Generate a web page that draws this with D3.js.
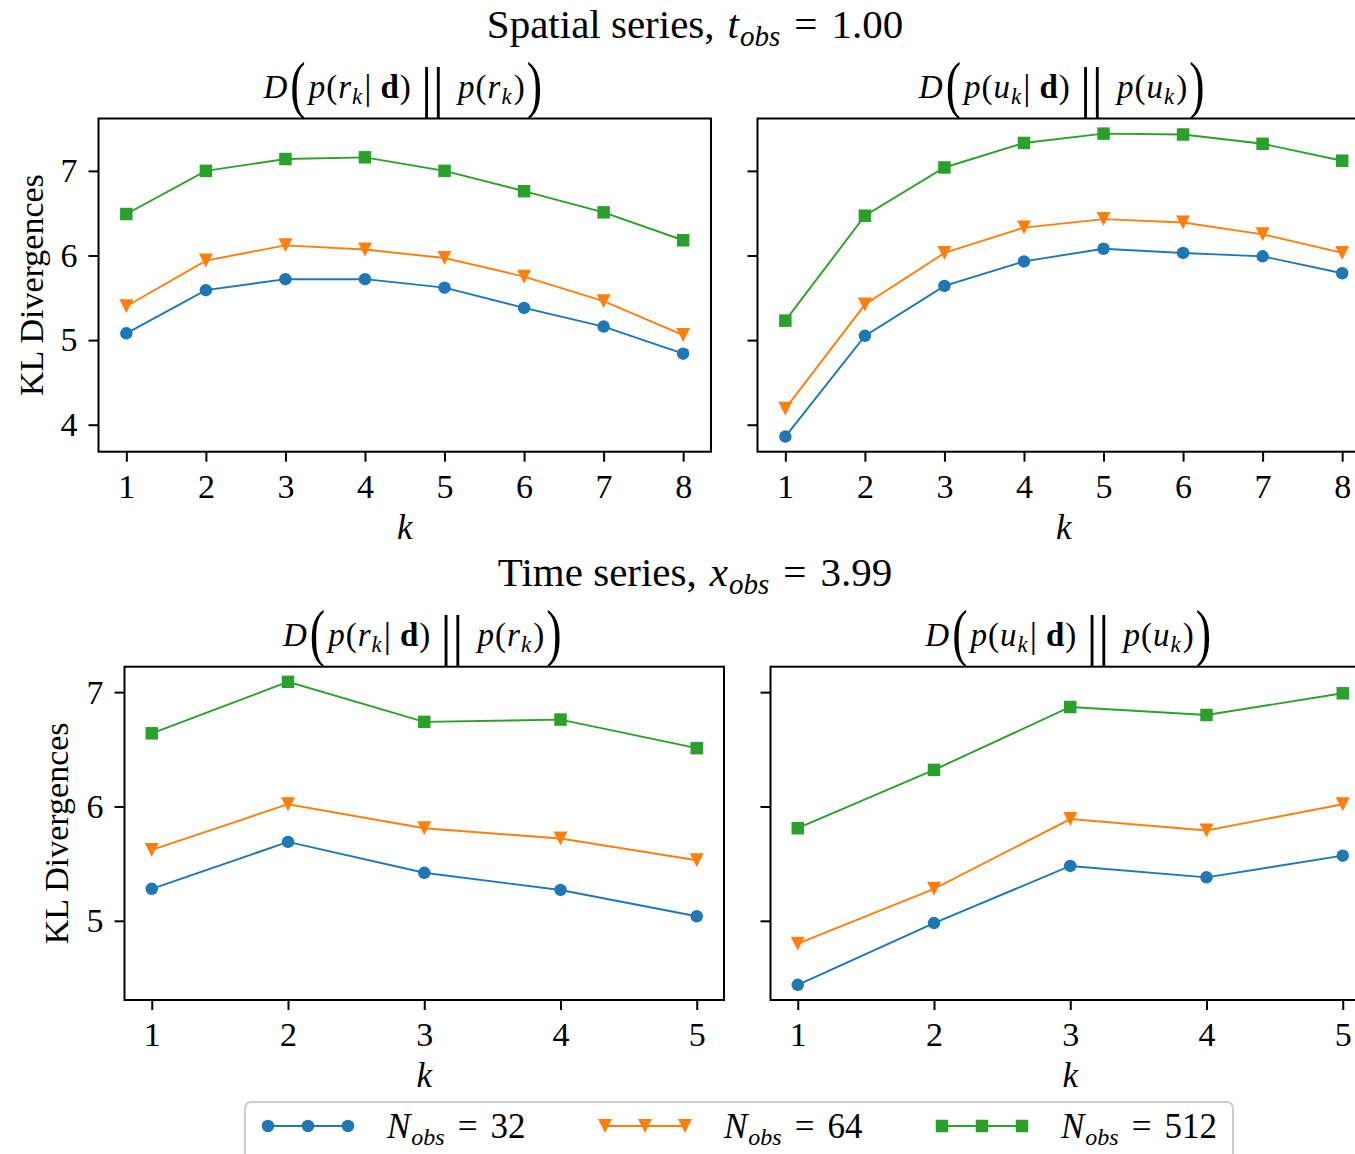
<!DOCTYPE html>
<html><head><meta charset="utf-8">
<script src="https://cdn.jsdelivr.net/npm/d3@7"></script>
<style>
html,body{margin:0;padding:0;background:#fff;overflow:hidden}
svg{display:block;font-family:"Liberation Serif","Times New Roman",serif}
svg text{white-space:pre}
</style></head><body>
<script>
// ---- data ----
const kSpatial = [1, 2, 3, 4, 5, 6, 7, 8];
const kTime = [1, 2, 3, 4, 5];
const seriesNames = ["32", "64", "512"];
const seriesColors = ["#1f77b4", "#ff7f0e", "#2ca02c"];
const seriesMarkers = ["circle", "triangleDown", "square"];

// Spatial series, KL divergence for r_k
const spatialR_N32  = [5.08, 5.59, 5.72, 5.72, 5.62, 5.38, 5.16, 4.84];
const spatialR_N64  = [5.40, 5.94, 6.12, 6.07, 5.97, 5.75, 5.46, 5.06];
const spatialR_N512 = [6.49, 7.00, 7.14, 7.16, 7.00, 6.76, 6.51, 6.18];
// Spatial series, KL divergence for u_k
const spatialU_N32  = [3.86, 5.05, 5.64, 5.93, 6.08, 6.03, 5.99, 5.79];
const spatialU_N64  = [4.19, 5.42, 6.03, 6.33, 6.43, 6.39, 6.25, 6.03];
const spatialU_N512 = [5.23, 6.47, 7.04, 7.33, 7.44, 7.43, 7.32, 7.12];
// Time series, KL divergence for r_k
const timeR_N32  = [5.28, 5.69, 5.42, 5.27, 5.04];
const timeR_N64  = [5.62, 6.02, 5.81, 5.72, 5.53];
const timeR_N512 = [6.64, 7.09, 6.74, 6.76, 6.51];
// Time series, KL divergence for u_k
const timeU_N32  = [4.44, 4.98, 5.48, 5.38, 5.57];
const timeU_N64  = [4.80, 5.28, 5.89, 5.79, 6.02];
const timeU_N512 = [5.81, 6.32, 6.87, 6.80, 6.99];

const spatialTicksY = [4, 5, 6, 7];
const timeTicksY = [5, 6, 7];

// ---- page ----
const W = 1355, H = 1154;
const FS = 33, SUB = 23;
const svg = d3.select("body").append("svg").attr("width", W).attr("height", H);

// marker shapes for d3.symbol (size = side of the bounding box)
const triangleDown = {
  draw(ctx, size) {
    const h = size / 2;
    ctx.moveTo(-h, -h); ctx.lineTo(h, -h); ctx.lineTo(0, h); ctx.closePath();
  }
};
const squareBox = {
  draw(ctx, size) { const h = size / 2; ctx.rect(-h, -h, size, size); }
};
const circleBox = {
  draw(ctx, size) { const r = size / 2; ctx.moveTo(r, 0); ctx.arc(0, 0, r, 0, 2 * Math.PI); }
};
const markerType = { circle: circleBox, triangleDown: triangleDown, square: squareBox };
const markerSize = { circle: 12.5, triangleDown: 14, square: 12.5 };

// lay out a run of math-like text pieces horizontally
function mathText(parent, x, y, pieces, anchor) {
  const g = parent.append("g");
  let cx = 0;
  pieces.forEach(p => {
    const size = p.size || FS;
    const sx = p.sx || 1;
    cx += p.pre || 0;
    const t = g.append("text")
      .attr("transform", `translate(${cx},${p.dy || 0}) scale(${sx},1)`)
      .style("font-size", size + "px")
      .style("font-style", p.it ? "italic" : "normal")
      .style("font-weight", p.bold ? "bold" : "normal")
      .attr("fill", "#000")
      .text(p.t);
    cx += t.node().getComputedTextLength() * sx + (p.gap || 0);
  });
  const off = anchor === "middle" ? -cx / 2 : anchor === "end" ? -cx : 0;
  g.attr("transform", `translate(${x + off},${y})`);
  return g;
}

function panelTitle(parent, cx, y, v) {
  const big = 64, bigDy = 8, bigSx = 0.72;
  return mathText(parent, cx, y, [
    { t: "D", it: 1, gap: 3 },
    { t: "(", size: big, dy: bigDy, sx: bigSx, gap: 3 },
    { t: "p", it: 1, gap: 1 }, { t: "(", gap: 1 }, { t: v, it: 1, gap: 1 },
    { t: "k", it: 1, size: SUB, dy: 6, gap: 2 },
    { t: "|", size: 36, dy: 1, gap: 9 }, { t: "d", bold: 1, gap: 1 }, { t: ")", gap: 10 },
    { t: "||", size: 58, dy: 9, gap: 14 },
    { t: "p", it: 1, gap: 1 }, { t: "(", gap: 1 }, { t: v, it: 1, gap: 1 },
    { t: "k", it: 1, size: SUB, dy: 6, gap: 2 }, { t: ")", gap: 2 },
    { t: ")", size: big, dy: bigDy, sx: bigSx }
  ], "middle");
}

function drawPanel(cfg) {
  const { x0, x1, y0, y1, ks, series, yDomain, yTicks, showY, v } = cfg;
  const n = ks.length;
  const pad = 0.05 * (n - 1);
  const x = d3.scaleLinear().domain([ks[0] - pad, ks[n - 1] + pad]).range([x0, x1]);
  const y = d3.scaleLinear().domain(yDomain).range([y1, y0]);
  const g = svg.append("g");

  // data lines and markers
  series.forEach((vals, i) => {
    const pts = ks.map((k, j) => [k, vals[j]]);
    g.append("path")
      .attr("d", d3.line().x(d => x(d[0])).y(d => y(d[1]))(pts))
      .attr("fill", "none").attr("stroke", seriesColors[i]).attr("stroke-width", 1.9);
    const sym = d3.symbol().type(markerType[seriesMarkers[i]]).size(markerSize[seriesMarkers[i]]);
    g.selectAll(null).data(pts).join("path")
      .attr("transform", d => `translate(${x(d[0])},${y(d[1])})`)
      .attr("d", sym).attr("fill", seriesColors[i]);
  });

  // axes frame
  g.append("rect").attr("x", x0).attr("y", y0).attr("width", x1 - x0).attr("height", y1 - y0)
    .attr("fill", "none").attr("stroke", "#000").attr("stroke-width", 2);

  const xAxis = g.append("g").attr("transform", `translate(0,${y1})`)
    .call(d3.axisBottom(x).tickValues(ks).tickFormat(d3.format("d")).tickSize(10).tickPadding(12));
  const yAxis = g.append("g").attr("transform", `translate(${x0},0)`)
    .call(d3.axisLeft(y).tickValues(yTicks).tickFormat(showY ? d3.format("d") : "").tickSize(10).tickPadding(11));
  [xAxis, yAxis].forEach(a => {
    a.select(".domain").remove();
    a.selectAll("line").attr("stroke", "#000").attr("stroke-width", 2);
    a.selectAll("text").attr("fill", "#000").style("font-size", "34px")
      .style("font-family", '"Liberation Serif",serif');
  });

  // x label
  g.append("text").attr("x", (x0 + x1) / 2).attr("y", y1 + 87)
    .attr("text-anchor", "middle").style("font-size", "35px").style("font-style", "italic").text("k");

  // y label
  if (showY) {
    g.append("text")
      .attr("transform", `translate(${cfg.yLabelX},${(y0 + y1) / 2}) rotate(-90)`)
      .attr("text-anchor", "middle").style("font-size", "34px").text("KL Divergences");
  }

  panelTitle(svg, (x0 + x1) / 2 - 2, y0 - 21, v);
}

function paddedDomain(arrs) {
  const all = arrs.flat();
  const lo = d3.min(all), hi = d3.max(all), m = 0.05 * (hi - lo);
  return [lo - m, hi + m];
}

const spatialDomain = paddedDomain([spatialR_N32, spatialR_N64, spatialR_N512, spatialU_N32, spatialU_N64, spatialU_N512]);
const timeDomain = paddedDomain([timeR_N32, timeR_N64, timeR_N512, timeU_N32, timeU_N64, timeU_N512]);

// figure titles
function figTitle(y, word, sym, val) {
  mathText(svg, 695, y, [
    { t: word, size: 41, gap: 13 },
    { t: sym, it: 1, size: 41, gap: 1 }, { t: "obs", it: 1, size: 29, dy: 8, gap: 14 },
    { t: "=", size: 41, gap: 14 },
    { t: val, size: 41 }
  ], "middle");
}
figTitle(38, "Spatial series,", "t", "1.00");
figTitle(586, "Time series,", "x", "3.99");

drawPanel({ x0: 98.5, x1: 711, y0: 118.5, y1: 451.7, ks: kSpatial,
  series: [spatialR_N32, spatialR_N64, spatialR_N512], yDomain: spatialDomain,
  yTicks: spatialTicksY, showY: true, yLabelX: 43, v: "r" });
drawPanel({ x0: 757.5, x1: 1370, y0: 118.5, y1: 451.7, ks: kSpatial,
  series: [spatialU_N32, spatialU_N64, spatialU_N512], yDomain: spatialDomain,
  yTicks: spatialTicksY, showY: false, v: "u" });
drawPanel({ x0: 124.5, x1: 724, y0: 666.7, y1: 1000, ks: kTime,
  series: [timeR_N32, timeR_N64, timeR_N512], yDomain: timeDomain,
  yTicks: timeTicksY, showY: true, yLabelX: 68, v: "r" });
drawPanel({ x0: 770.5, x1: 1370, y0: 666.7, y1: 1000, ks: kTime,
  series: [timeU_N32, timeU_N64, timeU_N512], yDomain: timeDomain,
  yTicks: timeTicksY, showY: false, v: "u" });

// legend
const leg = svg.append("g");
leg.append("rect").attr("x", 245).attr("y", 1102).attr("width", 988).attr("height", 80)
  .attr("rx", 6).attr("fill", "#fff").attr("fill-opacity", 0.8)
  .attr("stroke", "#cccccc").attr("stroke-width", 2);
const legX = [268, 605, 942];
seriesNames.forEach((name, i) => {
  const lx = legX[i], ly = 1126;
  const hx = d3.scaleLinear().domain([0, 2]).range([lx, lx + 80]);
  leg.append("line").attr("x1", hx(0)).attr("x2", hx(2)).attr("y1", ly).attr("y2", ly)
    .attr("stroke", seriesColors[i]).attr("stroke-width", 1.9);
  const sym = d3.symbol().type(markerType[seriesMarkers[i]]).size(markerSize[seriesMarkers[i]]);
  leg.selectAll(null).data([0, 1, 2]).join("path")
    .attr("transform", d => `translate(${hx(d)},${ly})`).attr("d", sym).attr("fill", seriesColors[i]);
  mathText(leg, lx + 119, ly + 12, [
    { t: "N", it: 1, size: 35, gap: 1 }, { t: "obs", it: 1, size: 24, dy: 7, gap: 13 },
    { t: "=", size: 35, gap: 13 }, { t: name, size: 35 }
  ], "start");
});
</script></body></html>
